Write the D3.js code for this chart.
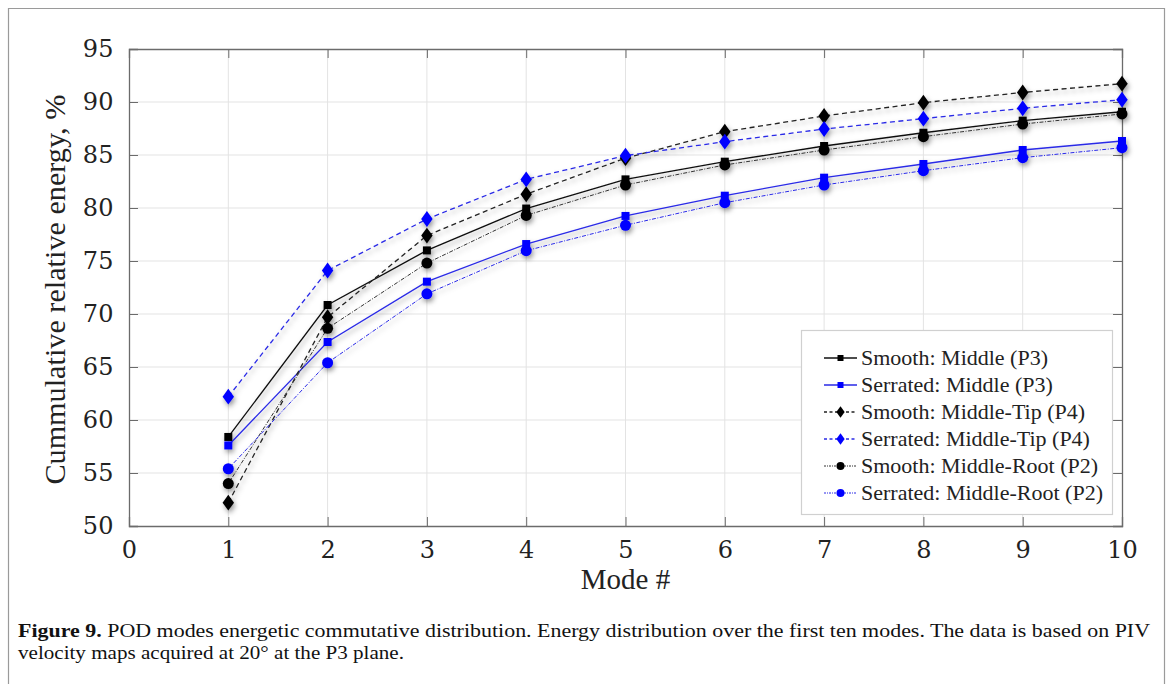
<!DOCTYPE html>
<html>
<head>
<meta charset="utf-8">
<script src="https://cdn.jsdelivr.net/npm/d3@7"></script>
<style>
  html, body { margin: 0; padding: 0; background: #fff; }
  svg { display: block; }
</style>
</head>
<body>
<svg id="chart" width="1171" height="684"></svg>
<script>
// ---- data ----
const modes = [1, 2, 3, 4, 5, 6, 7, 8, 9, 10];
const smoothMiddle   = [58.4, 70.85, 76.0, 79.95, 82.7, 84.37, 85.85, 87.1, 88.24, 89.08];
const serratedMiddle = [57.6, 67.36, 73.05, 76.6, 79.25, 81.16, 82.86, 84.15, 85.47, 86.32];
const smoothTip      = [52.2, 69.7, 77.4, 81.3, 84.7, 87.2, 88.68, 89.94, 90.9, 91.73];
const serratedTip    = [62.2, 74.1, 78.96, 82.7, 84.94, 86.26, 87.45, 88.43, 89.4, 90.22];
const smoothRoot     = [54.0, 68.65, 74.8, 79.3, 82.17, 84.06, 85.47, 86.73, 87.92, 88.87];
const serratedRoot   = [55.4, 65.4, 71.9, 75.97, 78.37, 80.5, 82.17, 83.52, 84.75, 85.69];
const seriesNames = [
  "Smooth: Middle (P3)", "Serrated: Middle (P3)",
  "Smooth: Middle-Tip (P4)", "Serrated: Middle-Tip (P4)",
  "Smooth: Middle-Root (P2)", "Serrated: Middle-Root (P2)"
];
const xTicks = [0, 1, 2, 3, 4, 5, 6, 7, 8, 9, 10];
const yTicks = [50, 55, 60, 65, 70, 75, 80, 85, 90, 95];
const xLabel = "Mode #";
const yLabel = "Cummulative relative energy, %";
const captionBold = "Figure 9.";
const captionLine1 = " POD modes energetic commutative distribution. Energy distribution over the first ten modes. The data is based on PIV";
const captionLine2 = "velocity maps acquired at 20\u00B0 at the P3 plane.";

// ---- styles ----
const BLUE = "#2a2ae6";
const BLUE_M = "#0000ff";
const styles = [
  { values: smoothMiddle,   color: "#111", mcolor: "#000", dash: null,      marker: "square",  width: 1.3 },
  { values: serratedMiddle, color: BLUE,   mcolor: BLUE_M, dash: null,      marker: "square",  width: 1.3 },
  { values: smoothTip,      color: "#222", mcolor: "#000", dash: "5,3.5",   marker: "diamond", width: 1.3 },
  { values: serratedTip,    color: BLUE,   mcolor: BLUE_M, dash: "5,3.5",   marker: "diamond", width: 1.3 },
  { values: smoothRoot,     color: "#333", mcolor: "#000", dash: "4,1.5,1,1.5", marker: "circle", width: 1.0 },
  { values: serratedRoot,   color: BLUE,   mcolor: BLUE_M, dash: "4,1.5,1,1.5", marker: "circle", width: 1.0 }
];

const svg = d3.select("#chart");
const FONT = "'Liberation Serif', 'DejaVu Serif', serif";
const TICKFONT = "'DejaVu Serif', 'Liberation Serif', serif";

// outer frame
svg.append("path")
  .attr("d", "M8.5,700 V8.5 H1164.5 V700")
  .attr("fill", "none").attr("stroke", "#9a9a9a").attr("stroke-width", 1.2);

const x = d3.scaleLinear().domain([0, 10]).range([129, 1122]);
const y = d3.scaleLinear().domain([50, 95]).range([526, 49]);

const defs = svg.append("defs");
const f = defs.append("filter").attr("id", "shadow")
  .attr("x", "-5%").attr("y", "-5%").attr("width", "110%").attr("height", "120%");
f.append("feDropShadow").attr("dx", 1.5).attr("dy", 3).attr("stdDeviation", 2.6)
  .attr("flood-color", "#000").attr("flood-opacity", 0.4);

// grid
const grid = svg.append("g");
grid.selectAll(".gx").data(xTicks.slice(1, -1)).join("line")
  .attr("x1", d => x(d)).attr("x2", d => x(d)).attr("y1", y(50)).attr("y2", y(95))
  .attr("stroke", "#e3e3e3").attr("stroke-width", 1);
grid.selectAll(".gy").data(yTicks.slice(1, -1)).join("line")
  .attr("x1", x(0)).attr("x2", x(10)).attr("y1", d => y(d)).attr("y2", d => y(d))
  .attr("stroke", "#e3e3e3").attr("stroke-width", 1);

// axes (MATLAB-like box with inward ticks)
const axisColor = "#6b6b6b";
const tl = 9;
const gxB = svg.append("g").attr("transform", `translate(0,${y(50)})`)
  .call(d3.axisBottom(x).tickValues(xTicks).tickSize(-tl).tickPadding(13).tickFormat(d3.format("d")));
const gxT = svg.append("g").attr("transform", `translate(0,${y(95)})`)
  .call(d3.axisTop(x).tickValues(xTicks).tickSize(-tl).tickFormat(""));
const gyL = svg.append("g").attr("transform", `translate(${x(0)},0)`)
  .call(d3.axisLeft(y).tickValues(yTicks).tickSize(-tl).tickPadding(18).tickFormat(d3.format("d")));
const gyR = svg.append("g").attr("transform", `translate(${x(10)},0)`)
  .call(d3.axisRight(y).tickValues(yTicks).tickSize(-tl).tickFormat(""));
[gxB, gxT, gyL, gyR].forEach(g => {
  g.select(".domain").attr("stroke", axisColor).attr("stroke-width", 1.3);
  g.selectAll(".tick line").attr("stroke", axisColor).attr("stroke-width", 1);
  g.selectAll("text").attr("font-family", TICKFONT).attr("font-size", 24).attr("fill", "#222");
});
gxB.selectAll(".tick text").attr("dy", "0.8em");
gyL.selectAll(".tick text").attr("dx", "0.1em");

// axis labels
svg.append("text").attr("x", x(5)).attr("y", 589).attr("text-anchor", "middle")
  .attr("font-family", FONT).attr("font-size", 29).attr("fill", "#222").text(xLabel);
svg.append("text").attr("transform", `translate(65,${y(72.3)}) rotate(-90)`)
  .attr("text-anchor", "middle").attr("font-family", FONT).attr("font-size", 30)
  .attr("textLength", 390).attr("lengthAdjust", "spacingAndGlyphs")
  .attr("fill", "#222").text(yLabel);

// markers
function markerPath(type, s) {
  if (type === "square") return `M${-s/2},${-s/2}h${s}v${s}h${-s}Z`;
  if (type === "diamond") return `M0,${-s*0.72}L${s*0.52},0L0,${s*0.72}L${-s*0.52},0Z`;
  return d3.symbol(d3.symbolCircle, Math.PI * (s/2) * (s/2))();
}
const markerSize = { square: 8, diamond: 11, circle: 11 };

const plot = svg.append("g").attr("filter", "url(#shadow)");
const line = d3.line().x((d, i) => x(modes[i])).y(d => y(d));
styles.forEach(s => {
  plot.append("path").datum(s.values)
    .attr("d", line).attr("fill", "none")
    .attr("stroke", s.color).attr("stroke-width", s.width)
    .attr("stroke-dasharray", s.dash);
});
styles.forEach(s => {
  plot.selectAll(null).data(s.values).join("path")
    .attr("transform", (d, i) => `translate(${x(modes[i])},${y(d)})`)
    .attr("d", markerPath(s.marker, markerSize[s.marker]))
    .attr("fill", s.mcolor);
});

// legend
const lg = svg.append("g");
lg.append("rect").attr("x", 801.5).attr("y", 330.5).attr("width", 311).attr("height", 184)
  .attr("fill", "#fff").attr("stroke", "#d0d0d0").attr("stroke-width", 1.2);
const legendMarker = { square: 6, diamond: 8, circle: 8 };
styles.forEach((s, i) => {
  const ly = 358 + i * 27;
  lg.append("line").attr("x1", 824).attr("x2", 857).attr("y1", ly).attr("y2", ly)
    .attr("stroke", s.color).attr("stroke-width", s.width)
    .attr("stroke-dasharray", s.dash ? (s.marker === "circle" ? "2,1,1,1" : "3,2.5") : null);
  lg.append("path").attr("transform", `translate(840.5,${ly})`)
    .attr("d", markerPath(s.marker, legendMarker[s.marker])).attr("fill", s.mcolor);
  lg.append("text").attr("x", 861).attr("y", ly).attr("dy", "0.34em")
    .attr("font-family", FONT).attr("font-size", 22).attr("fill", "#222")
    .text(seriesNames[i]);
});

// caption
const cap = svg.append("text").attr("x", 18).attr("y", 637)
  .attr("font-family", FONT).attr("font-size", 18).attr("fill", "#111")
  .attr("textLength", 1132).attr("lengthAdjust", "spacingAndGlyphs");
cap.append("tspan").attr("font-weight", "bold").text(captionBold);
cap.append("tspan").text(captionLine1);
svg.append("text").attr("x", 18).attr("y", 659)
  .attr("font-family", FONT).attr("font-size", 18).attr("fill", "#111")
  .attr("textLength", 386).attr("lengthAdjust", "spacingAndGlyphs")
  .text(captionLine2);
</script>
</body>
</html>
